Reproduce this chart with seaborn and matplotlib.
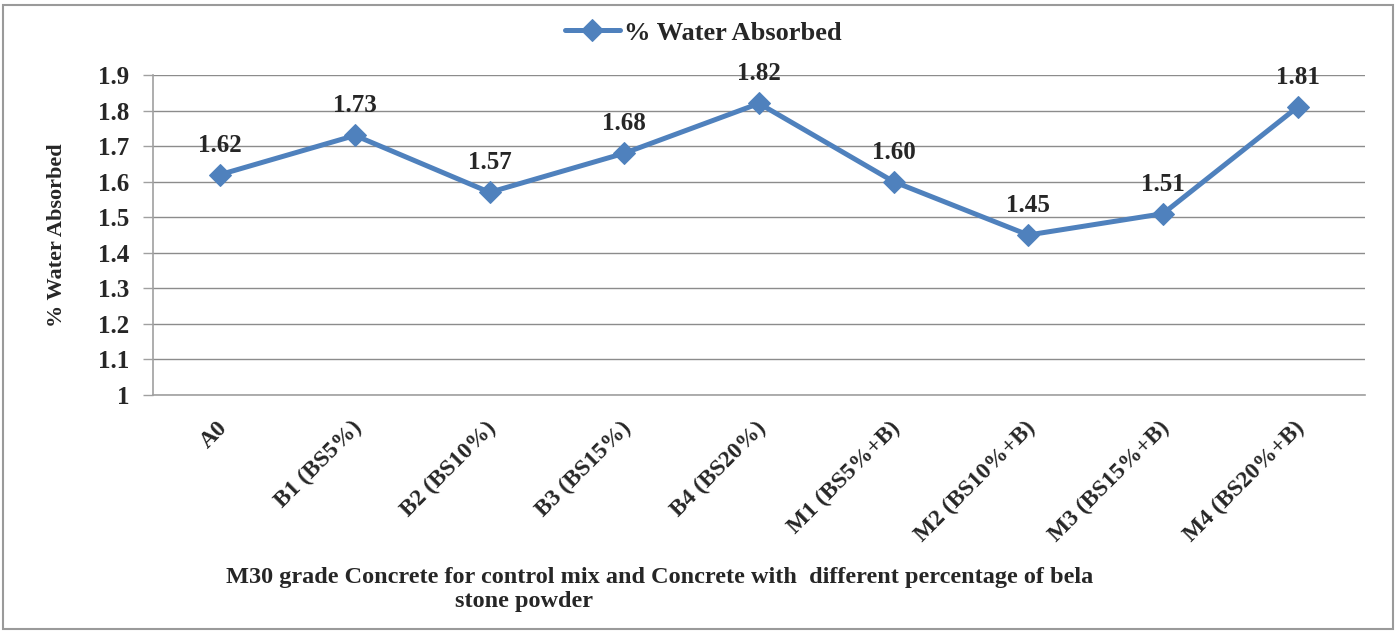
import matplotlib
matplotlib.use("Agg")
import matplotlib.pyplot as plt
import matplotlib.transforms as mtransforms
import seaborn as sns
import pandas as pd
from matplotlib.patches import Rectangle

mixes = ["A0", "B1 (BS5%)", "B2 (BS10%)", "B3 (BS15%)", "B4 (BS20%)",
         "M1 (BS5%+B)", "M2 (BS10%+B)", "M3 (BS15%+B)", "M4 (BS20%+B)"]
water_absorbed = [1.62, 1.73, 1.57, 1.68, 1.82, 1.60, 1.45, 1.51, 1.81]
y_ticks = [1, 1.1, 1.2, 1.3, 1.4, 1.5, 1.6, 1.7, 1.8, 1.9]
y_tick_labels = ["1", "1.1", "1.2", "1.3", "1.4", "1.5", "1.6", "1.7", "1.8", "1.9"]

df = pd.DataFrame({"mix": mixes, "absorbed": water_absorbed})

sns.set_style("white")
plt.rcParams["font.family"] = ["Liberation Serif", "DejaVu Serif"]
plt.rcParams["font.weight"] = "bold"

blue = "#4F81BD"
grey = "#A0A0A0"

fig = plt.figure(figsize=(13.98, 6.32), dpi=100)
ax = fig.add_axes([153 / 1398, 1 - 395 / 632, (1365 - 153) / 1398, 320 / 632])

sns.lineplot(data=df, x="mix", y="absorbed", ax=ax, color=blue, linewidth=3.6,
             marker="D", markersize=11, markeredgecolor=blue, sort=False,
             label="% Water Absorbed")

ax.set_xlim(-0.5, len(mixes) - 0.5)
ax.set_ylim(1, 1.9)
ax.set_yticks(y_ticks)
ax.set_yticklabels(y_tick_labels, fontsize=18, fontweight="bold")
ax.yaxis.grid(True, color="#8C8C8C", linewidth=1)
ax.set_axisbelow(True)

ax.set_xticks(range(len(mixes)))
ax.set_xticklabels(mixes, rotation=45, ha="right", rotation_mode="anchor",
                   fontsize=17, fontweight="bold")
ax.set_xticks([i - 0.5 for i in range(len(mixes) + 1)], minor=True)
ax.tick_params(axis="x", which="major", length=0, pad=16)
ax.tick_params(axis="x", which="minor", length=7, color=grey, width=1, direction="out")
ax.tick_params(axis="y", length=7, color=grey, width=1, direction="out", pad=10, left=True)

# nudge the rotated labels a little to the left (after tick_params, which resets transforms)
shift = mtransforms.ScaledTranslation(-4 / 100, 0, fig.dpi_scale_trans)
for lab in ax.get_xticklabels():
    lab.set_transform(lab.get_transform() + shift)

ax.set_xlabel("")
ax.set_ylabel("% Water Absorbed", fontsize=16, fontweight="bold", labelpad=22)

for s in ["top", "right"]:
    ax.spines[s].set_visible(False)
for s in ["left", "bottom"]:
    ax.spines[s].set_color(grey)
    ax.spines[s].set_linewidth(1.2)

for i, v in enumerate(water_absorbed):
    ax.annotate(f"{v:.2f}", (i, v), xytext=(0, 13), textcoords="offset points",
                ha="center", va="bottom", fontsize=18, fontweight="bold")

ax.legend(loc="center", bbox_to_anchor=(703 / 1398, 1 - 33 / 632),
          bbox_transform=fig.transFigure, frameon=False,
          prop={"family": "Liberation Serif", "weight": "bold", "size": 19},
          handlelength=2.1, handletextpad=0.15, borderaxespad=0)

fig.text(660 / 1398, 1 - 577 / 632,
         "M30 grade Concrete for control mix and Concrete with  different percentage of bela",
         ha="center", va="center", fontsize=17.5, fontweight="bold")
fig.text(524 / 1398, 1 - 601 / 632, "stone powder",
         ha="center", va="center", fontsize=17.5, fontweight="bold")

fig.patches.append(Rectangle((3 / 1398, 3 / 632), 1390 / 1398, 624 / 632,
                             transform=fig.transFigure, fill=False,
                             edgecolor="#9A9A9A", linewidth=1.5))

fig.savefig("out.png", dpi=100)
